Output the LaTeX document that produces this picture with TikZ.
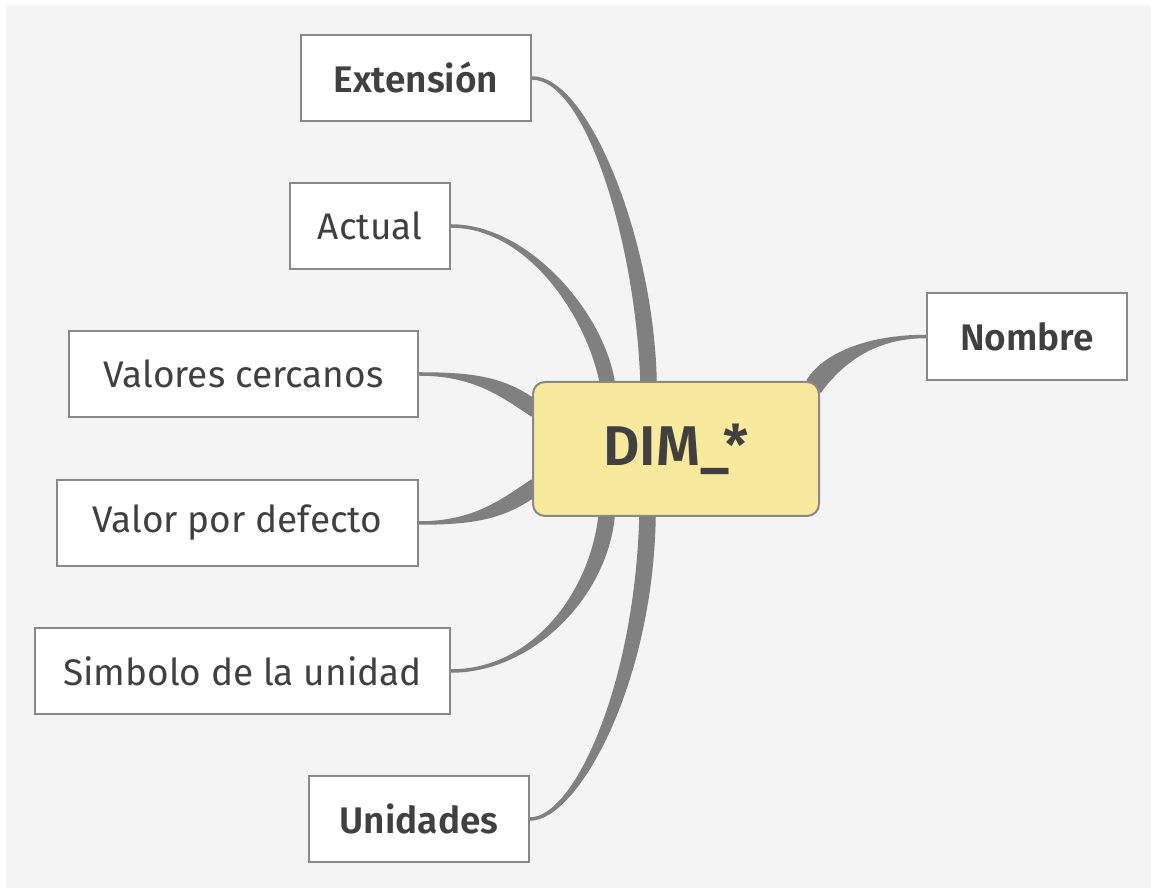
\documentclass[tikz,border=0pt]{standalone}
\usepackage{fontspec}
\setmainfont{Fira Sans}[BoldFont={Fira Sans SemiBold}]
\usetikzlibrary{backgrounds}
\definecolor{paper}{HTML}{F4F4F4}
\definecolor{edge}{HTML}{888888}
\definecolor{twig}{HTML}{808080}
\definecolor{ink}{HTML}{404040}
\definecolor{rootfill}{HTML}{F8EA9C}
\pgfdeclarelayer{links}
\pgfsetlayers{background,links,main}
\tikzset{
  leaf/.style={draw=edge, line width=2.5pt, fill=white, text=ink,
    minimum height=86pt, inner sep=0pt, font=\fontsize{37}{44}\selectfont},
  bold leaf/.style={leaf, font=\fontsize{37}{44}\selectfont\bfseries},
  branch/.style={fill=twig, draw=twig, line width=3.5pt, line join=round},
}

\begin{document}
\begin{tikzpicture}[x=1pt, y=1pt]
  \useasboundingbox (0,0) rectangle (1151,888);
  \begin{pgfonlayer}{background}
    \fill[paper] (6,0) rectangle (1151,883);
  \end{pgfonlayer}

  \node[draw=edge, line width=2pt, fill=rootfill, rounded corners=12pt,
    minimum width=286pt, minimum height=134pt, text=ink,
    font=\fontsize{56}{64}\selectfont\bfseries] (dim) at (676, 439) {DIM\_*};

  \node[bold leaf, minimum width=230pt] (extension) at (416, 810) {Extensión};
  \node[leaf, minimum width=160pt] (actual) at (370, 662) {Actual};
  \node[leaf, minimum width=349pt] (cercanos) at (243.5, 514) {Valores cercanos};
  \node[leaf, minimum width=361pt] (defecto) at (237.5, 365) {Valor por defecto};
  \node[leaf, minimum width=415pt] (simbolo) at (242.5, 217) {Simbolo de la unidad};
  \node[bold leaf, minimum width=220pt] (unidades) at (419, 69) {Unidades};
  \node[bold leaf, minimum width=200pt, minimum height=87pt] (nombre) at (1027, 551.5) {Nombre};

  \begin{pgfonlayer}{links}
    \filldraw[branch] ([xshift=-34pt]dim.north) .. controls +(-5,140) and +(55,0) .. (extension.east)
      .. controls +(55,0) and +(-3,140) .. ([xshift=-21pt]dim.north) -- cycle;
    \filldraw[branch] ([xshift=-75pt]dim.north) .. controls +(-15,70) and +(75,0) .. (actual.east)
      .. controls +(75,0) and +(-12,70) .. ([xshift=-63pt]dim.north) -- cycle;
    \filldraw[branch] ([yshift=50pt]dim.west) .. controls +(-30,20) and +(55,0) .. (cercanos.east)
      .. controls +(55,0) and +(-30,20) .. ([yshift=34pt]dim.west) -- cycle;
    \filldraw[branch] ([yshift=-32pt]dim.west) .. controls +(-30,-20) and +(55,0) .. (defecto.east)
      .. controls +(55,0) and +(-30,-20) .. ([yshift=-48pt]dim.west) -- cycle;
    \filldraw[branch] ([xshift=-76pt]dim.south) .. controls +(-10,-80) and +(80,0) .. (simbolo.east)
      .. controls +(80,0) and +(-8,-80) .. ([xshift=-63pt]dim.south) -- cycle;
    \filldraw[branch] ([xshift=-35pt]dim.south) .. controls +(-5,-170) and +(45,0) .. (unidades.east)
      .. controls +(45,0) and +(-3,-170) .. ([xshift=-22pt]dim.south) -- cycle;
    \filldraw[branch] ([xshift=-12pt]dim.north east) .. controls +(15,25) and +(-60,0) .. (nombre.west)
      .. controls +(-60,0) and +(15,20) .. ([yshift=-10pt]dim.north east) -- cycle;
  \end{pgfonlayer}
\end{tikzpicture}
\end{document}
